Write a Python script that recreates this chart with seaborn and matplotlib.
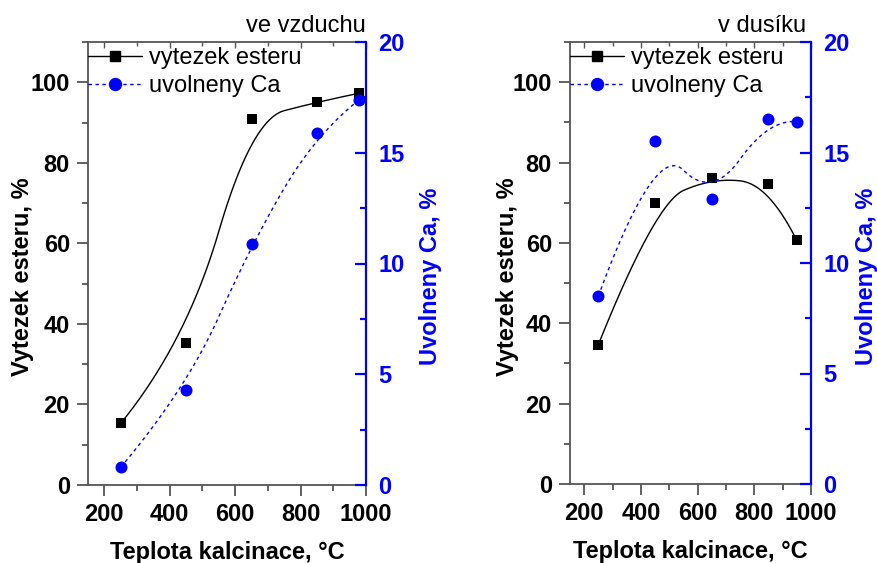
import numpy as np
import matplotlib
matplotlib.use("Agg")
import matplotlib.pyplot as plt
from matplotlib.lines import Line2D
from matplotlib.ticker import MultipleLocator
import seaborn as sns

# Calcination temperature (°C), ester yield (%), released Ca (%)
temp_air = [250, 450, 650, 850, 980]
ester_air = [15.3, 35.2, 90.8, 95.1, 97.3]
ca_air = [0.8, 4.3, 10.9, 15.9, 17.4]

temp_n2 = [250, 450, 650, 850, 950]
ester_n2 = [34.7, 69.9, 76.2, 74.7, 60.6]
ca_n2 = [8.5, 15.5, 12.9, 16.5, 16.4]

panel_titles = ["ve vzduchu", "v dusíku"]
legend_labels = ["vytezek esteru", "uvolneny Ca"]
xlabel = "Teplota kalcinace, °C"
ylabel_left = "Vytezek esteru, %"
ylabel_right = "Uvolneny Ca, %"

sns.set_style("ticks")
plt.rcParams["font.family"] = ["Liberation Sans", "DejaVu Sans"]
plt.rcParams["text.color"] = "black"
plt.rcParams["axes.labelcolor"] = "black"
plt.rcParams["xtick.labelcolor"] = "black"
plt.rcParams["ytick.labelcolor"] = "black"

BLUE = "#0000ff"
GRAY = "#555555"
FS = 17
FS_LEG = 17


def bspline(xs, ys, k=2, n=300):
    """Clamped uniform B-spline using the data points as control points."""
    P = np.column_stack([xs, ys]).astype(float)
    m = len(P)
    knots = np.concatenate([np.zeros(k), np.arange(m - k + 1), np.full(k, m - k)]).astype(float)
    u = np.linspace(0, m - k, n)
    u[-1] -= 1e-9

    def basis(i, p, t):
        if p == 0:
            return np.where((knots[i] <= t) & (t < knots[i + 1]), 1.0, 0.0)
        a = 0.0
        d1 = knots[i + p] - knots[i]
        if d1 > 0:
            a = (t - knots[i]) / d1 * basis(i, p - 1, t)
        b = 0.0
        d2 = knots[i + p + 1] - knots[i + 1]
        if d2 > 0:
            b = (knots[i + p + 1] - t) / d2 * basis(i + 1, p - 1, t)
        return a + b

    N = np.array([basis(i, k, u) for i in range(m)])
    curve = N.T @ P
    return curve[:, 0], curve[:, 1]


fig = plt.figure(figsize=(8.77, 5.63), dpi=100)
positions = [
    [88 / 877, 78 / 563, 278 / 877, 443 / 563],
    [570 / 877, 79 / 563, 241 / 877, 442 / 563],
]
panels = [
    dict(temps=temp_air, ester=ester_air, ca=ca_air, title_x=1.0, yl=54, yr=53),
    dict(temps=temp_n2, ester=ester_n2, ca=ca_n2, title_x=0.98, yl=51, yr=44),
]

for pos, p, title in zip(positions, panels, panel_titles):
    temps, ester, ca = p["temps"], p["ester"], p["ca"]
    px_w = pos[2] * 877
    px_h = pos[3] * 563

    ax = fig.add_axes(pos)
    ax2 = ax.twinx()

    # ester yield: smooth curve + square markers
    sx, sy = bspline(temps, ester)
    sns.lineplot(x=sx, y=sy, ax=ax, color="black", lw=1.0, sort=False, estimator=None)
    sns.scatterplot(x=temps, y=ester, ax=ax, marker="s", s=55, color="black",
                    edgecolor="black", linewidth=0, zorder=5)

    # released Ca: dotted smooth curve + circle markers
    cx, cy = bspline(temps, ca)
    sns.lineplot(x=cx, y=cy, ax=ax2, color=BLUE, lw=1.0, sort=False, estimator=None,
                 linestyle=(0, (2.5, 2.5)))
    sns.scatterplot(x=temps, y=ca, ax=ax2, marker="o", s=75, color=BLUE,
                    edgecolor=BLUE, linewidth=0, zorder=5, clip_on=False)

    ax.set_xlim(150, 1000)
    ax.set_ylim(0, 110)
    ax2.set_ylim(0, 20)

    ax.xaxis.set_major_locator(MultipleLocator(200))
    ax.xaxis.set_minor_locator(MultipleLocator(100))
    ax.yaxis.set_major_locator(MultipleLocator(20))
    ax.yaxis.set_minor_locator(MultipleLocator(10))
    ax2.yaxis.set_major_locator(MultipleLocator(5))
    ax2.yaxis.set_minor_locator(MultipleLocator(2.5))

    for side in ["left", "bottom", "top"]:
        ax.spines[side].set_color(GRAY)
        ax.spines[side].set_linewidth(1.3)
    ax.spines["right"].set_visible(False)
    for side in ["left", "bottom", "top"]:
        ax2.spines[side].set_visible(False)
    ax2.spines["right"].set_visible(True)
    ax2.spines["right"].set_color(BLUE)
    ax2.spines["right"].set_linewidth(1.6)

    ax.tick_params(axis="both", which="major", direction="out", length=8, width=1.3,
                   color=GRAY, labelcolor="black", labelsize=FS, pad=5)
    ax.tick_params(axis="both", which="minor", direction="out", length=4.5, width=1.3,
                   color=GRAY)
    ax.tick_params(axis="y", which="both", right=False)
    ax.tick_params(axis="x", which="both", top=False)
    for lab in ax.get_xticklabels() + ax.get_yticklabels():
        lab.set_fontweight("bold")

    # inward ticks along the top edge
    top = ax.secondary_xaxis("top")
    top.xaxis.set_major_locator(MultipleLocator(200))
    top.xaxis.set_minor_locator(MultipleLocator(100))
    top.tick_params(axis="x", which="major", direction="in", length=4, width=1.0,
                    color=GRAY, labeltop=False)
    top.tick_params(axis="x", which="minor", direction="in", length=3, width=1.0,
                    color=GRAY)
    top.spines["top"].set_visible(False)

    ax2.tick_params(axis="y", which="major", direction="in", length=8, width=1.6,
                    color=BLUE, labelcolor=BLUE, labelsize=FS, pad=9)
    ax2.tick_params(axis="y", which="minor", direction="in", length=4.5, width=1.6,
                    color=BLUE)
    for lab in ax2.get_yticklabels():
        lab.set_fontweight("bold")

    ax.set_xlabel(xlabel, fontsize=FS, fontweight="bold", color="black")
    ax.xaxis.set_label_coords(0.5, -56 / px_h)
    ax.set_ylabel(ylabel_left, fontsize=FS, fontweight="bold", color="black")
    ax2.set_ylabel(ylabel_right, fontsize=FS, fontweight="bold", color=BLUE)
    ax.yaxis.set_label_coords(-p["yl"] / px_w, 0.47)
    ax2.yaxis.set_label_coords(1 + p["yr"] / px_w, 0.47)

    ax.text(p["title_x"], 1.022, title, transform=ax.transAxes, ha="right",
            va="baseline", fontsize=FS, color="black")

    handles = [
        Line2D([], [], color="black", lw=1.0, marker="s", markersize=7.4),
        Line2D([], [], color=BLUE, lw=1.0, linestyle=(0, (2.5, 2.5)), marker="o",
               markersize=8.6),
    ]
    leg = ax2.legend(handles, legend_labels, loc="upper left",
                     bbox_to_anchor=(0, 1 - 5 / px_h), borderaxespad=0, borderpad=0,
                     frameon=False, fontsize=FS_LEG, handlelength=2.3,
                     handletextpad=0.3, labelspacing=0.25)
    for t in leg.get_texts():
        t.set_color("black")

fig.savefig("out.png", dpi=100)
